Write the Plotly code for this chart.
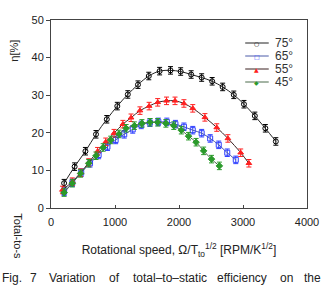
import plotly.graph_objects as go

# ---- data ----
x75 = [205, 369, 538, 703, 872, 1036, 1200, 1359, 1528, 1697, 1867, 2026, 2190, 2354, 2518, 2682, 2856, 3015, 3185, 3349, 3513]
y75 = [6.6, 11.0, 15.1, 19.6, 23.6, 27.1, 30.2, 32.8, 35.1, 36.4, 36.6, 36.3, 35.5, 34.7, 33.7, 32.2, 30.1, 27.6, 24.5, 21.2, 17.7]

x65 = [205, 333, 472, 610, 744, 882, 1010, 1144, 1277, 1410, 1544, 1677, 1810, 1944, 2077, 2215, 2354, 2487, 2621, 2754, 2887]
y65 = [4.3, 6.7, 9.4, 11.9, 14.1, 16.3, 18.1, 19.6, 20.9, 22.1, 22.7, 22.9, 22.9, 22.3, 21.6, 20.7, 19.9, 18.5, 16.8, 14.7, 12.8]

x55 = [179, 333, 462, 590, 728, 856, 985, 1123, 1251, 1390, 1533, 1667, 1805, 1938, 2077, 2215, 2405, 2590, 2764, 2964, 3092]
y55 = [4.8, 7.0, 9.4, 12.1, 15.1, 17.6, 19.9, 22.3, 24.0, 25.9, 27.1, 28.1, 28.5, 28.5, 27.8, 26.5, 24.1, 21.4, 18.5, 14.7, 11.9]

x45 = [205, 333, 462, 590, 703, 815, 933, 1062, 1174, 1303, 1421, 1549, 1667, 1795, 1918, 2036, 2149, 2267, 2385, 2508, 2631]
y45 = [4.1, 6.6, 9.2, 11.9, 13.9, 16.1, 18.1, 19.7, 21.2, 21.9, 22.5, 22.8, 22.8, 22.5, 21.9, 20.7, 19.1, 17.5, 15.2, 13.0, 11.2]

err = [1.0] * 21

names = ["75°", "65°", "55°", "45°"]
xtick_vals = [0, 1000, 2000, 3000, 4000]
ytick_vals = [0, 10, 20, 30, 40, 50]

caption_words = ["Fig.", "7", "Variation", "of", "total–to–static", "efficiency", "on", "the"]
caption_px = [11, 33, 72, 116, 172, 246, 291, 318]

series = [
    (x75, y75, names[0], "black", "#222222", "circle-open", "○"),
    (x65, y65, names[1], "#3040ff", "#4a5aa8", "square-open", "□"),
    (x55, y55, names[2], "#ff2020", "#3a2020", "triangle-up", "▲"),
    (x45, y45, names[3], "#2a9a2a", "#4a6a4a", "diamond", "◆"),
]

W, H = 331, 289
ml, mr, mt, mb = 51, 19, 20, 81
PW, PH = W - ml - mr, H - mt - mb


def px_x(px):
    return (px - ml) / PW


def px_y(py):
    return (H - mb - py) / PH


fig = go.Figure()
for xs, ys, nm, mc, lc, sym, glyph in series:
    fig.add_trace(go.Scatter(
        x=xs, y=ys, name=nm, mode="lines+markers", showlegend=False,
        line=dict(color=lc, width=1, shape="spline"),
        marker=dict(symbol=sym, size=5, color=mc, line=dict(color=mc, width=1)),
        error_y=dict(type="data", array=err, color=mc, thickness=1, width=2.5),
    ))

# compact legend (layout elements)
leg_y0, leg_dy = 43, 13
for i, (xs, ys, nm, mc, lc, sym, glyph) in enumerate(series):
    ly = leg_y0 + i * leg_dy
    fig.add_shape(type="line", xref="paper", yref="paper",
                  x0=px_x(249), x1=px_x(273), y0=px_y(ly), y1=px_y(ly),
                  line=dict(color=lc, width=1))
    fig.add_annotation(text=glyph, xref="paper", yref="paper", x=px_x(261), y=px_y(ly),
                       xanchor="center", yanchor="middle", showarrow=False,
                       font=dict(family="DejaVu Sans", size=6, color=mc))
    fig.add_annotation(text=nm, xref="paper", yref="paper", x=px_x(277), y=px_y(ly),
                       xanchor="left", yanchor="middle", showarrow=False,
                       font=dict(size=12, color="#333"))

fig.update_layout(
    width=W, height=H,
    margin=dict(l=ml, r=mr, t=mt, b=mb),
    paper_bgcolor="white", plot_bgcolor="white",
    font=dict(family="Liberation Sans, Arial, sans-serif", size=11, color="#222"),
    showlegend=False,
    xaxis=dict(range=[0, 4000], tickvals=xtick_vals, ticks="inside", ticklen=3,
               showline=True, linecolor="#444", linewidth=1, mirror=True,
               showgrid=False, zeroline=False, tickfont=dict(size=11),
               ticklabelstandoff=4,
               title=dict(text="Rotational speed, Ω/T<sub>to</sub><sup>1/2</sup> [RPM/K<sup>1/2</sup>]",
                          font=dict(size=12), standoff=18)),
    yaxis=dict(range=[0, 50], tickvals=ytick_vals, ticks="outside", ticklen=4,
               showline=True, linecolor="#444", linewidth=1, mirror=True,
               showgrid=False, zeroline=False, tickfont=dict(size=11)),
)

# y-axis title fragments as seen in the reference
fig.add_annotation(text="η[%]", xref="paper", yref="paper", x=px_x(13), y=px_y(51),
                   xanchor="center", yanchor="middle", textangle=-90, showarrow=False,
                   font=dict(size=11, color="#222"))
fig.add_annotation(text="Total-to-s", xref="paper", yref="paper", x=px_x(17), y=px_y(236),
                   xanchor="center", yanchor="middle", textangle=90, showarrow=False,
                   font=dict(size=11, color="#222"))

# caption
for w, px in zip(caption_words, caption_px):
    fig.add_annotation(text=w, xref="paper", yref="paper",
                       x=px_x(px), y=px_y(278), xanchor="center", yanchor="middle",
                       showarrow=False, font=dict(size=12, color="#222"))

fig.write_html("out.html")
